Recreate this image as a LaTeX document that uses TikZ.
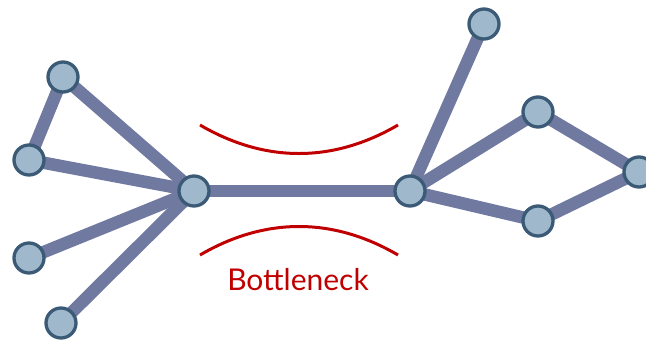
\documentclass[tikz,border=0pt]{standalone}
\usepackage{fontspec}
\setsansfont{Lato}
\usetikzlibrary{backgrounds}
\definecolor{vfill}{HTML}{A0B8CC}
\definecolor{vline}{HTML}{3A5A75}
\definecolor{elink}{HTML}{7079A0}
\definecolor{neck}{HTML}{C00000}
\begin{document}
\begin{tikzpicture}[x=1pt, y=-1pt,
    vert/.style={circle, fill=vfill, draw=vline, line width=3.3pt, minimum size=30pt, inner sep=0pt},
    link/.style={draw=elink, line width=12.5pt},
    arc/.style={draw=neck, line width=3pt}]
  \useasboundingbox (0,0) rectangle (646,341);
  % left cluster
  \node[vert] (a) at (63,77) {};
  \node[vert] (b) at (29,160) {};
  \node[vert] (c) at (29,258) {};
  \node[vert] (d) at (61,323) {};
  \node[vert] (l) at (194,191) {};
  % right cluster
  \node[vert] (r) at (410,191) {};
  \node[vert] (e) at (484,24) {};
  \node[vert] (f) at (538,112) {};
  \node[vert] (g) at (639,172) {};
  \node[vert] (h) at (538,221) {};
  \begin{pgfonlayer}{background}
  \path[link]
  (a.center) edge (b.center)
  edge (l.center)
  (b.center) edge (l.center)
  (c.center) edge (l.center)
  (d.center) edge (l.center)
  (l.center) edge (r.center)
  (r.center) edge (e.center)
  edge (f.center)
  edge (h.center)
  (f.center) edge (g.center)
  (h.center) edge (g.center);
  \end{pgfonlayer}
  % bottleneck
  \coordinate (t1) at (200,125);
  \coordinate (t2) at (398,125);
  \coordinate (b1) at (200,255);
  \coordinate (b2) at (398,255);
  \draw[arc] (t1) .. controls (265,163) and (333,163) .. (t2);
  \draw[arc] (b1) .. controls (265,217) and (333,217) .. (b2);
  \node[text=neck, font=\sffamily\fontsize{30}{34}\selectfont] (lbl) at (298,280) {Bottleneck};
\end{tikzpicture}
\end{document}
